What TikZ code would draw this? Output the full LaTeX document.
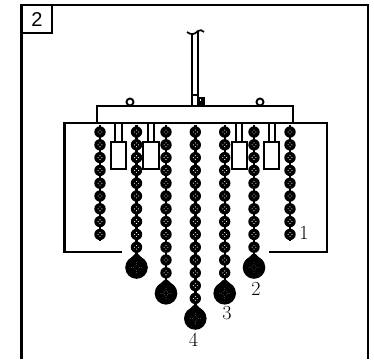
\documentclass[tikz,border=0pt]{standalone}
\usepackage{fontspec}
\newfontfamily\labelsans{Liberation Sans}
\tikzset{
  frameline/.style={draw=black,line width=2.5pt},
  thinline/.style={draw=black,line width=1.9pt},
  digit/.style={inner sep=0pt,font=\fontsize{20}{20}\selectfont,text=black},
}
\newcommand{\bead}[2]{%
  \fill[black] (#1,#2) circle (5.7);
  \fill[black] (#1-1.2,#2-6.8) rectangle (#1+1.2,#2+6.8);
  \fill[white] (#1-1.9,#2) circle (0.55) (#1+1.9,#2) circle (0.55) (#1,#2-1.9) circle (0.55) (#1,#2+1.9) circle (0.55);
}
\newcommand{\drop}[2]{%
  \fill[black] (#1,#2) circle (11.3);
  \fill[black] (#1-9.5,#2-6) -- (#1-1.5,#2-13.5) -- (#1+1.5,#2-13.5) -- (#1+9.5,#2-6) -- cycle;
  \foreach \u/\v in {-3/0,3/0,0/-3,0/3,-1.5/-1.5,1.5/-1.5,-1.5/1.5,1.5/1.5,-5/0,5/0,0/-5,0/5}
    \fill[black!55] (#1+\u,#2+\v) circle (0.45);
}
\newcommand{\pendant}[2]{% x, number of beads
  \foreach \i in {1,...,#2} { \pgfmathsetmacro{\yy}{132+(\i-1)*12.8}\bead{#1}{\yy} }
}
\begin{document}
\begin{tikzpicture}[x=1pt,y=-1pt]
\useasboundingbox (0,0) rectangle (374,359);
% outer frame
\draw[frameline] (21.5,359) -- (21.5,5) -- (368,5) -- (368,359);
\draw[frameline] (21.5,33) -- (52,33) -- (52,5);
\node[inner sep=0pt,font=\labelsans\fontsize{20}{20}\selectfont] (num) at (37,19.5) {2};
% ceiling bracket
\draw[frameline,line cap=rect] (121,252) -- (64.5,252) -- (64.5,123) -- (327,123) -- (327,252) -- (270,252);
% canopy
\draw[thinline] (97,122) -- (97,105.8) -- (293,105.8) -- (293,122);
\draw[thinline,fill=white] (130,102) circle (3.5);
\draw[thinline,fill=white] (260,102) circle (3.5);
\draw[thinline] (97,105.8) -- (293,105.8);
% stem
\draw[thinline] (191.7,105) -- (191.7,33);
\draw[thinline] (198.3,105) -- (198.3,31);
\draw[line width=1.7pt] (187,32) .. controls (191,35) and (194,35) .. (198,31) .. controls (200,29.5) and (202,30) .. (204,32);
\draw[thinline] (191.7,95) -- (198.3,95);
\fill[black] (199,97) rectangle (204.5,105);
\fill[white] (200.2,99.4) rectangle (201.4,100.8);
% pendants
\foreach \x/\n in {100/9,136.5/10,166/12,195.3/14,224.7/12,254/10,290/9} { \pendant{\x}{\n} }
\drop{136.5}{267.5}
\drop{166}{293.3}
\drop{195.3}{318.5}
\drop{224.7}{293.3}
\drop{254}{267.5}
% prisms
\foreach \a/\b/\c/\d in {114.7/121.7/110.7/126,147.7/154.3/143.3/158.7,235.7/242/232/246.7,268.7/274.7/264/279.3} {
  \draw[thinline] (\a,123) -- (\a,142.3) (\b,123) -- (\b,142.3);
  \draw[thinline,fill=white] (\c,142.3) rectangle (\d,168.7);
}
% labels
\node[digit] (n1) at (304,232.5) {1};
\node[digit] (n2) at (256,289) {2};
\node[digit] (n3) at (227,313) {3};
\node[digit] (n4) at (193.5,340) {4};
\end{tikzpicture}
\end{document}
